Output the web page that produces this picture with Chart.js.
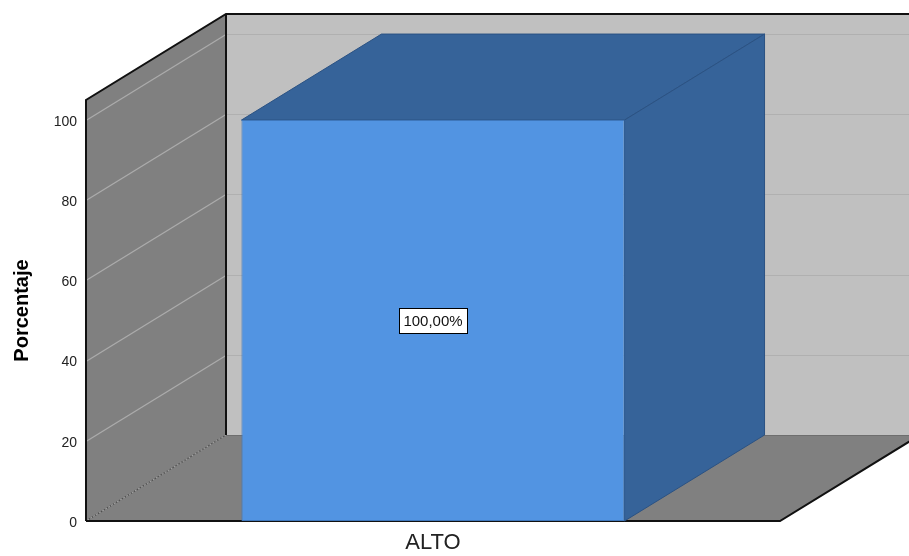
<!DOCTYPE html>
<html>
<head>
<meta charset="utf-8">
<script src="https://cdn.jsdelivr.net/npm/chart.js@4.4.1/dist/chart.umd.min.js"></script>
<style>
  html, body { margin: 0; padding: 0; background: #ffffff; }
  #wrap { width: 909px; height: 556px; }
</style>
</head>
<body>
<div id="wrap"><canvas id="c" width="909" height="556"></canvas></div>
<script>
// Category, value and axis tick definitions
const categories = ['ALTO'];
const percentages = [100];
const valueLabels = ['100,00%'];
const yTickValues = [0, 20, 40, 60, 80, 100];

// Oblique depth of the 3D box (pixels)
const DEPTH_X = 140;
const DEPTH_Y = -86;

const FONT = '"Liberation Sans", Arial, Helvetica, sans-serif';

const box3d = {
  id: 'box3d',
  beforeDatasetsDraw(chart) {
    const ctx = chart.ctx;
    const y = chart.scales.y;
    const ca = chart.chartArea;
    const X0 = ca.left, X1 = ca.right, YT = ca.top;
    const Y0 = y.getPixelForValue(0);
    const dx = DEPTH_X, dy = DEPTH_Y;

    ctx.save();
    // back wall
    ctx.fillStyle = '#c0c0c0';
    ctx.fillRect(X0 + dx, YT + dy, (X1 - X0), Y0 - YT);
    // left wall
    ctx.fillStyle = '#808080';
    ctx.beginPath();
    ctx.moveTo(X0, YT); ctx.lineTo(X0 + dx, YT + dy);
    ctx.lineTo(X0 + dx, Y0 + dy); ctx.lineTo(X0, Y0);
    ctx.closePath(); ctx.fill();
    // floor
    ctx.beginPath();
    ctx.moveTo(X0, Y0); ctx.lineTo(X0 + dx, Y0 + dy);
    ctx.lineTo(X1 + dx, Y0 + dy); ctx.lineTo(X1, Y0);
    ctx.closePath(); ctx.fill();

    // gridlines on walls
    yTickValues.forEach(v => {
      if (v === 0) return;
      const py = Math.round(y.getPixelForValue(v)) + 0.5;
      ctx.strokeStyle = '#ababab';
      ctx.lineWidth = 1.3;
      ctx.beginPath(); ctx.moveTo(X0, py); ctx.lineTo(X0 + dx, py + dy); ctx.stroke();
      ctx.strokeStyle = '#b0b0b0';
      ctx.lineWidth = 1;
      ctx.beginPath(); ctx.moveTo(X0 + dx, py + dy); ctx.lineTo(X1 + dx, py + dy); ctx.stroke();
    });
    // back wall base line
    ctx.strokeStyle = '#6e6e6e';
    ctx.lineWidth = 1;
    ctx.beginPath(); ctx.moveTo(X0 + dx, Y0 + dy + 0.5); ctx.lineTo(X1 + dx, Y0 + dy + 0.5); ctx.stroke();

    // dotted edge between left wall and floor
    ctx.strokeStyle = '#505050';
    ctx.lineWidth = 1.3;
    ctx.setLineDash([1.5, 2]);
    ctx.beginPath(); ctx.moveTo(X0, Y0); ctx.lineTo(X0 + dx, Y0 + dy); ctx.stroke();
    ctx.setLineDash([]);

    // outline
    ctx.strokeStyle = '#111111';
    ctx.lineWidth = 2;
    ctx.beginPath();
    ctx.moveTo(X0, Y0); ctx.lineTo(X0, YT);
    ctx.lineTo(X0 + dx, YT + dy); ctx.lineTo(X1 + dx, YT + dy);
    ctx.stroke();
    ctx.beginPath();
    ctx.moveTo(X0 + dx, YT + dy); ctx.lineTo(X0 + dx, Y0 + dy);
    ctx.stroke();
    ctx.beginPath();
    ctx.moveTo(X0, Y0); ctx.lineTo(X1, Y0); ctx.lineTo(X1 + dx, Y0 + dy);
    ctx.stroke();

    // top and side faces of each bar
    const meta = chart.getDatasetMeta(0);
    meta.data.forEach(bar => {
      const p = bar.getProps(['x', 'y', 'base', 'width'], true);
      const L = p.x - p.width / 2, R = p.x + p.width / 2;
      const T = p.y, B = p.base;
      ctx.fillStyle = '#366399';
      ctx.strokeStyle = '#2b5283';
      ctx.lineWidth = 1;
      ctx.beginPath();
      ctx.moveTo(L, T); ctx.lineTo(L + dx, T + dy);
      ctx.lineTo(R + dx, T + dy); ctx.lineTo(R, T);
      ctx.closePath(); ctx.fill(); ctx.stroke();
      ctx.beginPath();
      ctx.moveTo(R, T); ctx.lineTo(R + dx, T + dy);
      ctx.lineTo(R + dx, B + dy); ctx.lineTo(R, B);
      ctx.closePath(); ctx.fill(); ctx.stroke();
    });
    ctx.restore();
  },
  afterDatasetsDraw(chart) {
    const ctx = chart.ctx;
    const y = chart.scales.y;
    const meta = chart.getDatasetMeta(0);
    ctx.save();
    ctx.font = '15px ' + FONT;
    ctx.textAlign = 'center';
    ctx.textBaseline = 'middle';
    meta.data.forEach((bar, i) => {
      const cx = bar.x;
      const cy = y.getPixelForValue(percentages[i] / 2);
      const text = valueLabels[i];
      const w = Math.ceil(ctx.measureText(text).width) + 8;
      const h = 25;
      const bx = Math.round(cx - w / 2) + 0.5, by = Math.round(cy - h / 2) + 0.5;
      ctx.fillStyle = '#ffffff';
      ctx.fillRect(bx, by, w, h);
      ctx.strokeStyle = '#000000';
      ctx.lineWidth = 1;
      ctx.strokeRect(bx, by, w, h);
      ctx.fillStyle = '#111111';
      ctx.fillText(text, cx, cy + 1);
    });
    ctx.restore();
  }
};

new Chart(document.getElementById('c'), {
  type: 'bar',
  data: {
    labels: categories,
    datasets: [{
      data: percentages,
      backgroundColor: '#5294e2',
      borderColor: '#3f77bb',
      borderWidth: 1,
      borderSkipped: false,
      categoryPercentage: 1,
      barPercentage: 0.552
    }]
  },
  options: {
    responsive: false,
    animation: false,
    devicePixelRatio: 1,
    layout: { padding: { top: 100, right: 129, left: 0, bottom: 0 } },
    plugins: { legend: { display: false }, tooltip: { enabled: false } },
    scales: {
      x: {
        grid: { display: false, drawTicks: false, tickLength: 0 },
        border: { display: false },
        ticks: { font: { family: FONT, size: 22 }, color: '#222222', padding: 9 },
        afterFit(scale) { scale.height = 35; }
      },
      y: {
        min: 0,
        max: 105,
        grid: { display: false, drawTicks: false, tickLength: 0 },
        border: { display: false },
        afterBuildTicks(scale) {
          scale.ticks = yTickValues.map(v => ({ value: v }));
        },
        ticks: {
          font: { family: FONT, size: 14 },
          color: '#222222',
          padding: 9,
          labelOffset: 2
        },
        title: {
          display: true,
          text: 'Porcentaje',
          font: { family: FONT, size: 20, weight: 'bold' },
          color: '#000000',
          padding: { top: 10, bottom: 0 }
        },
        afterFit(scale) { scale.width = 86; }
      }
    }
  },
  plugins: [box3d]
});
</script>
</body>
</html>
